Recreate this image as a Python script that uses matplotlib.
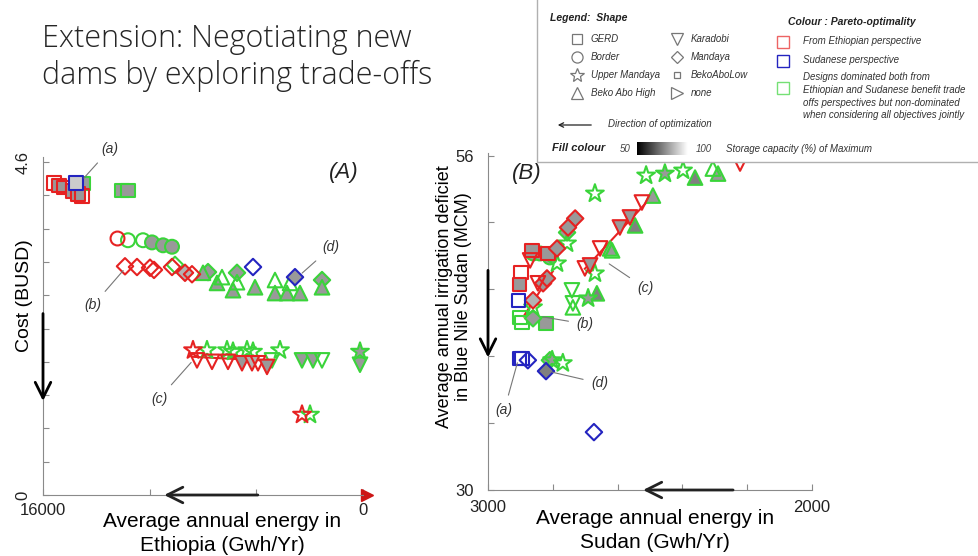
import numpy as np
import matplotlib
matplotlib.use("Agg")
import matplotlib.pyplot as plt
from matplotlib.patches import Rectangle

plt.rcParams['font.family'] = ['Liberation Sans', 'DejaVu Sans']

# ---- panel A: energy in Ethiopia vs cost ----
# shape: s=GERD o=Border *=Upper Mandaya ^=Beko Abo High v=Karadobi D=Mandaya
# colour: r=Ethiopian optimum, b=Sudanese optimum, g=jointly non-dominated
a_shape = ['s', 's', 's', 's', 's', 's', 's', 's', 's', 's',
           'o', 'o', 'o', 'o', 'o', 'o',
           'D', 'D', 'D', 'D', 'D', 'D', 'D', 'D', 'D', 'D', 'D', 'D', 'D',
           '^', '^', '^', '^', '^', '^', '^', '^', '^', '^', '^', '^',
           '*', '*', '*', '*', '*', '*', '*', '*', '*', '*',
           'v', 'v', 'v', 'v', 'v', 'v', 'v', 'v', 'v', 'v', 'v', 'v']
a_colour = ['r', 'r', 'r', 'r', 'r', 'r', 'b', 'g', 'g', 'g',
            'r', 'g', 'g', 'g', 'g', 'g',
            'r', 'r', 'r', 'r', 'r', 'r', 'r', 'g', 'g', 'g', 'g', 'b', 'b',
            'g', 'g', 'g', 'g', 'g', 'g', 'g', 'g', 'g', 'g', 'g', 'g',
            'r', 'g', 'g', 'g', 'g', 'g', 'g', 'g', 'r', 'g',
            'r', 'r', 'r', 'r', 'r', 'r', 'r', 'g', 'g', 'g', 'g', 'g']
a_energy = [15450, 15200, 14950, 14500, 14250, 14050, 14350, 14000, 12050, 11750,
            12300, 11750, 11000, 10550, 10000, 9550,
            11900, 11300, 10650, 10450, 9550, 8900, 8550, 9400, 7750, 6300, 2050, 5500, 3400,
            8000, 7300, 7050, 6500, 6300, 5400, 4400, 4400, 3800, 3150, 2050, 3650,
            8500, 7800, 6800, 6500, 5800, 5500, 4150, 150, 3050, 2650,
            8300, 7550, 6750, 6050, 5550, 5250, 4800, 4550, 3050, 2500, 2050, 150]
a_cost = [4.31, 4.28, 4.25, 4.20, 4.16, 4.13, 4.31, 4.30, 4.21, 4.21,
          3.55, 3.52, 3.52, 3.49, 3.45, 3.43,
          3.16, 3.15, 3.14, 3.11, 3.15, 3.07, 3.05, 3.18, 3.08, 3.07, 2.97, 3.15, 3.01,
          3.07, 2.93, 3.01, 2.83, 2.94, 2.87, 2.97, 2.79, 2.79, 2.79, 2.87, 2.93,
          2.00, 2.00, 2.00, 1.98, 2.00, 1.98, 2.00, 1.98, 1.11, 1.11,
          1.86, 1.84, 1.84, 1.82, 1.82, 1.82, 1.77, 1.86, 1.86, 1.86, 1.86, 1.80]
a_storage = [100, 80, 100, 80, 80, 100, 90, 80, 80, 80,
             100, 100, 100, 80, 80, 80,
             100, 100, 100, 100, 100, 85, 100, 100, 80, 80, 80, 100, 80,
             80, 80, 100, 80, 100, 80, 100, 80, 80, 80, 80, 100,
             100, 100, 100, 100, 100, 100, 100, 80, 100, 100,
             100, 100, 100, 80, 85, 100, 80, 100, 80, 80, 100, 80]
a_line_energy = [8550, 5000]
a_line_cost = [1.91, 1.86]

# ---- panel B: energy in Sudan vs irrigation deficit ----
b_shape = ['s', 's', 's', 's', 's', 's', 's', 's', 's', 's',
           'o', 'o', 'o',
           'D', 'D', 'D', 'D', 'D', 'D', 'D', 'D', 'D', 'D', 'D', 'D',
           '*', '*', '*', '*', '*', '*', '*', '*', '*', '*', '*',
           '^', '^', '^', '^', '^', '^', '^', '^', '^',
           'v', 'v', 'v', 'v', 'v', 'v', 'v', 'v', 'v', 'v', 'v']
b_colour = ['r', 'r', 'r', 'r', 'b', 'b', 'b', 'g', 'g', 'g',
            'g', 'g', 'g',
            'r', 'r', 'r', 'r', 'r', 'r', 'g', 'g', 'g', 'b', 'b', 'b',
            'g', 'g', 'g', 'g', 'g', 'g', 'g', 'g', 'g', 'g', 'g',
            'g', 'g', 'g', 'g', 'g', 'g', 'g', 'g', 'g',
            'r', 'r', 'r', 'r', 'r', 'r', 'r', 'r', 'r', 'g', 'g']
b_energy = [2898, 2904, 2864, 2815, 2907, 2904, 2895, 2901, 2895, 2821,
            2861, 2840, 2809,
            2787, 2731, 2753, 2861, 2830, 2818, 2861, 2809, 2756, 2877, 2821, 2673,
            2670, 2512, 2454, 2398, 2769, 2802, 2670, 2691, 2787, 2756, 2861,
            2361, 2290, 2306, 2491, 2546, 2623, 2664, 2617, 2738,
            2701, 2654, 2593, 2525, 2562, 2870, 2846, 2685, 2222, 2741, 2738]
b_deficit = [46.92, 45.99, 48.63, 48.39, 44.75, 40.24, 40.24, 43.43, 43.04, 42.96,
             48.39, 48.39, 48.08,
             48.78, 51.11, 50.41, 44.75, 46.07, 46.45, 43.35, 40.09, 50.02, 40.09, 39.24, 34.50,
             53.05, 54.45, 54.60, 54.84, 39.86, 40.09, 46.84, 44.90, 47.62, 49.17, 44.20,
             54.29, 54.60, 54.99, 52.89, 50.57, 48.78, 45.29, 48.63, 44.20,
             47.23, 48.78, 50.41, 52.35, 51.19, 47.85, 46.07, 47.46, 55.38, 45.52, 44.51]
b_storage = [100, 80, 80, 80, 100, 100, 100, 100, 100, 80,
             80, 80, 80,
             80, 80, 80, 85, 80, 80, 80, 80, 80, 100, 75, 100,
             100, 100, 80, 100, 100, 100, 100, 80, 100, 100, 100,
             75, 80, 100, 80, 75, 80, 75, 100, 100,
             100, 100, 80, 100, 80, 100, 100, 80, 100, 100, 100]
b_line1_energy = [2701, 2491]
b_line1_deficit = [47.2, 52.9]
b_line2_energy = [2890, 2800]
b_line2_deficit = [43.5, 47.0]

# annotation labels: (text, point x, point y, text x, text y)
a_notes = [('(a)', 14050, 4.35, 12650, 4.78),
           ('(b)', 11900, 3.13, 13500, 2.62),
           ('(c)', 8500, 1.86, 10200, 1.33),
           ('(d)', 3150, 3.04, 1600, 3.42)]
b_notes = [('(a)', 2907, 40.1, 2950, 36.2),
           ('(b)', 2840, 43.5, 2700, 42.9),
           ('(c)', 2633, 47.7, 2515, 45.7),
           ('(d)', 2809, 39.2, 2655, 38.3)]

colour_map = {'g': '#3ad43a', 'r': '#e62222', 'b': '#2424c0'}
shape_size = {'s': 90, 'o': 100, 'D': 70, '^': 110, 'v': 110, '*': 180}
grey = plt.get_cmap('gray')


def draw_points(ax, shapes, colours, xs, ys, storage):
    shapes = np.array(shapes)
    colours = np.array(colours)
    xs = np.array(xs)
    ys = np.array(ys)
    storage = np.array(storage)
    for c in colour_map:
        for m in shape_size:
            sel = (shapes == m) & (colours == c)
            if not sel.any():
                continue
            fc = [grey((st - 50) / 50.0) if st < 100 else (0, 0, 0, 0) for st in storage[sel]]
            ax.scatter(xs[sel], ys[sel], marker=m, s=shape_size[m], facecolors=fc,
                       edgecolors=colour_map[c], linewidths=1.5, zorder=3, clip_on=False)


def style_axes(ax):
    ax.spines[['top', 'right']].set_visible(False)
    ax.spines[['left', 'bottom']].set_color('#8a8a8a')
    ax.tick_params(direction='in', length=4, color='#8a8a8a', labelsize=12, labelcolor='#222222')


fig = plt.figure(figsize=(9.79, 5.56), dpi=100)

# ---------- panel A ----------
axA = fig.add_axes([43 / 979, 61 / 556, 320 / 979, 338 / 556])
style_axes(axA)
axA.set_xlim(16000, 0)
axA.set_ylim(0, 4.67)
axA.plot(a_line_energy, a_line_cost, color=colour_map['r'], lw=1.5, zorder=2)
draw_points(axA, a_shape, a_colour, a_energy, a_cost, a_storage)
axA.set_yticks(np.linspace(0, 4.6, 11))
axA.set_yticklabels(['0'] + [''] * 9 + ['4.6'], rotation=90, va='center')
axA.set_xticks(np.linspace(16000, 0, 4))
axA.set_xticklabels(['16000', '', '', '0'])
axA.tick_params(axis='y', pad=9)
axA.tick_params(axis='x', pad=6)
axA.set_ylabel('Cost (BUSD)', fontsize=14)
axA.yaxis.set_label_coords(-0.03, 0.59)
axA.set_xlabel('Average annual energy in\nEthiopia (Gwh/Yr)', fontsize=15, linespacing=1.35)
axA.xaxis.set_label_coords(0.56, -0.05)
for t, px, py, tx, ty in a_notes:
    axA.annotate(t, xy=(px, py), xytext=(tx, ty), fontsize=10, style='italic', color='#333333',
                 ha='center', va='center', annotation_clip=False,
                 arrowprops=dict(arrowstyle='-', color='#777777', lw=0.8, shrinkA=4, shrinkB=2))
axA.text(0.94, 0.955, '(A)', transform=axA.transAxes, fontsize=16, style='italic',
         ha='center', va='center', color='#222222')
axA.annotate('', xy=(0, 0.27), xytext=(0, 0.545), xycoords='axes fraction',
             arrowprops=dict(arrowstyle='->', lw=2, color='black', mutation_scale=28))
axA.annotate('', xy=(0.37, 0), xytext=(0.68, 0), xycoords='axes fraction',
             arrowprops=dict(arrowstyle='->', lw=2, color='#222222', mutation_scale=28))
axA.plot([1.012], [0], marker='>', ms=9, color='#cc1515', transform=axA.transAxes, clip_on=False)

# ---------- panel B ----------
axB = fig.add_axes([488 / 979, 66 / 556, 324 / 979, 337 / 556])
style_axes(axB)
axB.set_xlim(3000, 2000)
axB.set_ylim(30, 56.2)
axB.plot(b_line1_energy, b_line1_deficit, color=colour_map['r'], lw=1.5, zorder=2)
axB.plot(b_line2_energy, b_line2_deficit, color=colour_map['r'], lw=1.5, zorder=2)
draw_points(axB, b_shape, b_colour, b_energy, b_deficit, b_storage)
axB.set_yticks(np.linspace(30, 56, 6))
axB.set_yticklabels(['30', '', '', '', '', '56'])
axB.set_xticks(np.linspace(3000, 2000, 6))
axB.set_xticklabels(['3000', '', '', '', '', '2000'])
axB.tick_params(axis='y', pad=10)
axB.tick_params(axis='x', pad=7)
axB.set_ylabel('Average annual irrigation deficiet\nin Blue Nile Sudan (MCM)', fontsize=13,
               linespacing=1.1)
axB.yaxis.set_label_coords(-0.05, 0.575)
axB.set_xlabel('Average annual energy in\nSudan (Gwh/Yr)', fontsize=15, linespacing=1.35)
axB.xaxis.set_label_coords(0.515, -0.055)
for t, px, py, tx, ty in b_notes:
    axB.annotate(t, xy=(px, py), xytext=(tx, ty), fontsize=10, style='italic', color='#333333',
                 ha='center', va='center', annotation_clip=False,
                 arrowprops=dict(arrowstyle='-', color='#777777', lw=0.8, shrinkA=4, shrinkB=2))
axB.text(0.12, 0.94, '(B)', transform=axB.transAxes, fontsize=16, style='italic',
         ha='center', va='center', color='#222222')
axB.annotate('', xy=(0, 0.385), xytext=(0, 0.66), xycoords='axes fraction',
             arrowprops=dict(arrowstyle='->', lw=2, color='black', mutation_scale=28))
axB.annotate('', xy=(0.47, 0), xytext=(0.765, 0), xycoords='axes fraction',
             arrowprops=dict(arrowstyle='->', lw=2, color='#222222', mutation_scale=28))

# ---------- overlay: title and legend box ----------
ov = fig.add_axes([0, 0, 1, 1], zorder=10)
ov.set_xlim(0, 979)
ov.set_ylim(556, 0)
ov.axis('off')

ov.text(42, 23, 'Extension: Negotiating new\ndams by exploring trade-offs', fontsize=22,
        color='#262626', va='top', ha='left', linespacing=1.22, weight='light',
        family=['Open Sans', 'DejaVu Sans'])

ov.add_patch(Rectangle((537, -5), 460, 167, facecolor='white', edgecolor='#b0b0b0', lw=1, zorder=1))

shape_names = ['GERD', 'Border', 'Upper Mandaya', 'Beko Abo High',
               'Karadobi', 'Mandaya', 'BekoAboLow', 'none']
shape_marks = ['s', 'o', '*', '^', 'v', 'D', 's', '>']
shape_ms = [7, 8, 10, 8, 8, 6, 5, 8]
row_y = [39, 57, 75, 93]
for i, (name, mk) in enumerate(zip(shape_names, shape_marks)):
    col, row = divmod(i, 4)
    mx = 577 + col * 100
    ov.plot([mx], [row_y[row]], marker=mk, ms=shape_ms[i], mfc='none', mec='#777777', mew=0.9, zorder=3)
    ov.text(mx + 14, row_y[row], name, fontsize=7, style='italic', va='center', color='#333333')
ov.text(550, 18, 'Legend:  Shape', fontsize=7.5, style='italic', weight='bold', va='center', color='#222222')

ov.text(788, 22, 'Colour : Pareto-optimality', fontsize=7.5, style='italic', weight='bold',
        va='center', color='#222222')
colour_names = ['From Ethiopian perspective', 'Sudanese perspective',
                'Designs dominated both from\nEthiopian and Sudanese benefit trade\n'
                'offs perspectives but non-dominated\nwhen considering all objectives jointly']
colour_keys = ['r', 'b', 'g']
colour_y = [42, 61, 88]
colour_alpha = [0.7, 1.0, 0.7]
for name, key, y, al in zip(colour_names, colour_keys, colour_y, colour_alpha):
    ov.plot([783], [y], marker='s', ms=8, mfc='none', mec=colour_map[key], mew=1.0, alpha=al, zorder=3)
ov.text(803, 41, colour_names[0], fontsize=7, style='italic', va='center', color='#333333')
ov.text(803, 60, colour_names[1], fontsize=7, style='italic', va='center', color='#333333')
ov.text(803, 72, colour_names[2], fontsize=7, style='italic', va='top', color='#333333',
        linespacing=1.35)

ov.annotate('', xy=(555, 125), xytext=(594, 125),
            arrowprops=dict(arrowstyle='->', lw=0.9, color='#222222', mutation_scale=8))
ov.text(608, 124, 'Direction of optimization', fontsize=7, style='italic', va='center', color='#333333')

ov.text(552, 148, 'Fill colour', fontsize=8, style='italic', weight='bold', va='center', color='#222222')
ov.text(620, 149, '50', fontsize=7, style='italic', va='center', color='#444444')
ov.imshow(np.linspace(50, 100, 100)[None, :], cmap='gray', vmin=50, vmax=100,
          extent=[637, 688, 155, 142], aspect='auto', zorder=2)
ov.text(696, 149, '100', fontsize=7, style='italic', va='center', color='#444444')
ov.text(726, 149, 'Storage capacity (%) of Maximum', fontsize=7, style='italic', va='center', color='#333333')
ov.set_xlim(0, 979)
ov.set_ylim(556, 0)

fig.savefig('out.png', dpi=100)
